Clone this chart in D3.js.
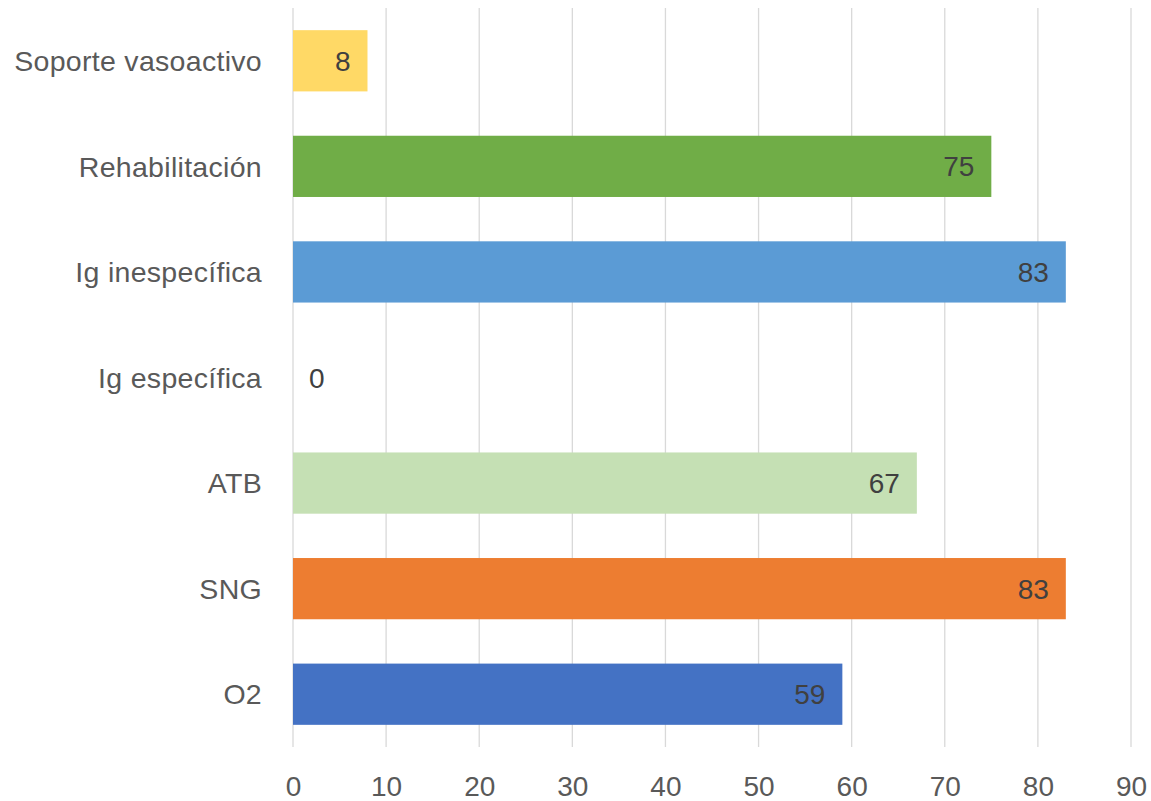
<!DOCTYPE html>
<html>
<head>
<meta charset="utf-8">
<script src="https://cdn.jsdelivr.net/npm/d3@7"></script>
<style>
  body { margin: 0; background: #fff; }
</style>
</head>
<body>
<div id="chart"></div>
<script>
const categories = ["Soporte vasoactivo", "Rehabilitación", "Ig inespecífica", "Ig específica", "ATB", "SNG", "O2"];
const values = [8, 75, 83, 0, 67, 83, 59];
const barColors = ["#FFD966", "#70AD47", "#5B9BD5", "#A5A5A5", "#C5E0B4", "#ED7D31", "#4472C4"];
const xTicks = [0, 10, 20, 30, 40, 50, 60, 70, 80, 90];

const width = 1151, height = 801;
const margin = { top: 8, right: 20, bottom: 54, left: 293 };
const font = "'Liberation Sans', Arial, sans-serif";

const svg = d3.select("#chart").append("svg")
  .attr("width", width)
  .attr("height", height);

const x = d3.scaleLinear()
  .domain([0, 90])
  .range([margin.left, 1131]);

const y = d3.scaleBand()
  .domain(categories)
  .range([margin.top, height - margin.bottom])
  .paddingInner(0.42)
  .paddingOuter(0.21);

// gridlines
svg.append("g")
  .selectAll("line")
  .data(xTicks)
  .join("line")
  .attr("x1", d => x(d))
  .attr("x2", d => x(d))
  .attr("y1", margin.top)
  .attr("y2", height - margin.bottom)
  .attr("stroke", "#d9d9d9")
  .attr("stroke-width", 1.3);

// bars
const data = categories.map((c, i) => ({ cat: c, val: values[i], color: barColors[i] }));

svg.append("g")
  .selectAll("rect")
  .data(data)
  .join("rect")
  .attr("x", x(0))
  .attr("y", d => y(d.cat))
  .attr("width", d => x(d.val) - x(0))
  .attr("height", y.bandwidth())
  .attr("fill", d => d.color);

// value labels (inside end, zero pushed outside)
svg.append("g")
  .selectAll("text")
  .data(data)
  .join("text")
  .attr("x", d => d.val > 0 ? x(d.val) - 17 : x(0) + 16)
  .attr("y", d => y(d.cat) + y.bandwidth() / 2)
  .attr("dy", "0.36em")
  .attr("text-anchor", d => d.val > 0 ? "end" : "start")
  .attr("font-family", font)
  .attr("font-size", "28px")
  .attr("fill", "#404040")
  .text(d => d.val);

// category labels
svg.append("g")
  .selectAll("text")
  .data(categories)
  .join("text")
  .attr("x", 262)
  .attr("y", d => y(d) + y.bandwidth() / 2)
  .attr("dy", "0.36em")
  .attr("text-anchor", "end")
  .attr("font-family", font)
  .attr("font-size", "28.5px")
  .attr("letter-spacing", "0.3px")
  .attr("fill", "#595959")
  .text(d => d);

// x axis
const axisG = svg.append("g")
  .attr("transform", `translate(0,${height - margin.bottom})`)
  .call(d3.axisBottom(x).tickValues(xTicks).tickSize(0).tickPadding(29));

axisG.select(".domain").remove();
axisG.selectAll(".tick text")
  .attr("font-family", font)
  .attr("font-size", "28px")
  .attr("fill", "#595959");
</script>
</body>
</html>
